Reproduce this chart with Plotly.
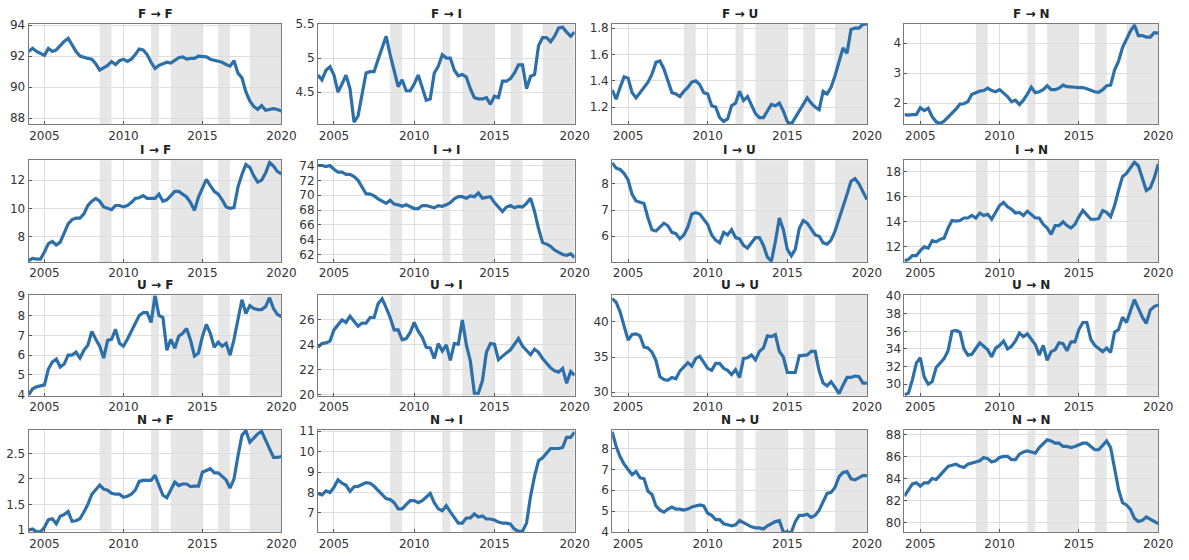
import plotly.graph_objects as go

W, H = 1189, 560
years = [2004 + i / 4 for i in range(65)]

titles = ["F → F", "F → I", "F → U", "F → N",
          "I → F", "I → I", "I → U", "I → N",
          "U → F", "U → I", "U → U", "U → N",
          "N → F", "N → I", "N → U", "N → N"]

shaded_periods = [(2008.5, 2009.25), (2011.75, 2012.25), (2013.0, 2015.0),
                  (2016.0, 2016.75), (2018.0, 2020.0)]

x_ticks = [2005, 2010, 2015, 2020]

FF = [92.3, 92.5, 92.3, 92.2, 92.05, 92.5, 92.3, 92.4, 92.7, 92.95, 93.15, 92.7, 92.3, 92.0, 91.9, 91.85,
      91.8, 91.5, 91.1, 91.25, 91.4, 91.65, 91.45, 91.7, 91.8, 91.65, 91.8, 92.1, 92.45, 92.4, 92.1, 91.6,
      91.2, 91.4, 91.5, 91.6, 91.55, 91.75, 91.9, 91.95, 91.8, 91.85, 91.85, 92.0, 91.95, 91.95, 91.8, 91.75,
      91.7, 91.6, 91.45, 91.35, 91.7, 90.9, 90.6, 89.7, 89.1, 88.75, 88.55, 88.8, 88.5, 88.55, 88.6, 88.55, 88.45]
FI = [4.75, 4.68, 4.82, 4.87, 4.75, 4.5, 4.62, 4.75, 4.55, 4.06, 4.15, 4.45, 4.78, 4.8, 4.8, 4.98,
      5.15, 5.32, 5.05, 4.8, 4.58, 4.68, 4.52, 4.52, 4.62, 4.75, 4.55, 4.38, 4.4, 4.78, 4.88, 5.05,
      5.0, 5.0, 4.82, 4.74, 4.76, 4.72, 4.55, 4.42, 4.4, 4.4, 4.42, 4.32, 4.44, 4.42, 4.66, 4.66,
      4.7, 4.78, 4.9, 4.9, 4.55, 4.73, 4.76, 5.18, 5.3, 5.3, 5.24, 5.32, 5.44, 5.45, 5.38, 5.32, 5.38]
FU = [1.33, 1.26, 1.35, 1.43, 1.42, 1.31, 1.27, 1.31, 1.35, 1.39, 1.45, 1.54, 1.55, 1.49, 1.4, 1.31,
      1.3, 1.28, 1.32, 1.35, 1.39, 1.4, 1.37, 1.31, 1.3, 1.21, 1.2, 1.12, 1.09, 1.11, 1.21, 1.23,
      1.32, 1.25, 1.28, 1.22, 1.15, 1.12, 1.12, 1.17, 1.22, 1.21, 1.23, 1.17, 1.09, 1.07, 1.12, 1.18,
      1.23, 1.27, 1.23, 1.2, 1.18, 1.32, 1.3, 1.35, 1.44, 1.54, 1.65, 1.61, 1.79, 1.8, 1.8, 1.83, 1.83]
FN = [1.62, 1.6, 1.62, 1.62, 1.85, 1.75, 1.83, 1.55, 1.38, 1.33, 1.4, 1.53, 1.65, 1.8, 1.97, 1.98,
      2.05, 2.3, 2.35, 2.4, 2.42, 2.5, 2.42, 2.38, 2.45, 2.35, 2.22, 2.05, 2.1, 1.95, 2.1, 2.3,
      2.53, 2.35, 2.38, 2.45, 2.58, 2.45, 2.45, 2.5, 2.6, 2.55, 2.55, 2.53, 2.52, 2.52, 2.48, 2.42,
      2.38, 2.36, 2.45, 2.58, 2.6, 3.1, 3.4, 3.85, 4.15, 4.4, 4.6, 4.25, 4.25, 4.2, 4.2, 4.35, 4.33]
IF = [6.3, 6.45, 6.4, 6.4, 6.9, 7.5, 7.65, 7.4, 7.6, 8.2, 8.9, 9.2, 9.3, 9.3, 9.6, 10.2,
      10.5, 10.7, 10.5, 10.1, 10.0, 9.9, 10.2, 10.2, 10.1, 10.2, 10.4, 10.7, 10.75, 10.9, 10.7, 10.7,
      10.7, 11.0, 10.5, 10.6, 10.9, 11.2, 11.2, 11.0, 10.8, 10.4, 9.85, 10.8, 11.5, 12.05, 11.6, 11.2,
      11.0, 10.6, 10.1, 10.0, 10.05, 11.5, 12.4, 13.1, 12.9, 12.3, 11.85, 12.0, 12.5, 13.25, 13.0, 12.6, 12.45]
II = [74.0, 74.0, 73.85, 74.0, 73.5, 73.1, 73.1, 72.8, 72.8, 72.5, 72.0, 71.0, 70.2, 70.15, 69.9, 69.5,
      69.2, 68.9, 69.3, 68.8, 68.7, 68.5, 68.7, 68.4, 68.2, 68.2, 68.6, 68.6, 68.5, 68.3, 68.6, 68.5,
      68.7, 69.0, 69.5, 69.8, 69.8, 69.6, 69.9, 69.8, 70.3, 69.6, 69.7, 69.8, 69.0, 68.4, 67.8, 68.4,
      68.6, 68.3, 68.5, 68.4, 68.9, 69.6, 67.8, 65.5, 63.6, 63.4, 63.1, 62.6, 62.3, 62.0, 61.9, 62.1, 61.6]
IU = [8.8, 8.6, 8.55, 8.4, 8.15, 7.6, 7.35, 7.3, 7.25, 6.7, 6.25, 6.2, 6.35, 6.5, 6.4, 6.15,
      6.1, 5.9, 6.05, 6.35, 6.85, 6.9, 6.85, 6.65, 6.45, 6.05, 5.85, 5.75, 6.15, 6.05, 6.25, 5.95,
      5.9, 5.65, 5.55, 5.75, 5.95, 5.95, 5.65, 5.2, 5.05, 5.8, 6.7, 6.25, 5.5, 5.25, 5.5, 6.3,
      6.6, 6.5, 6.25, 6.05, 6.0, 5.75, 5.7, 5.85, 6.2, 6.65, 7.1, 7.6, 8.1, 8.2, 8.0, 7.7, 7.4]
IN = [10.9, 11.0, 11.3, 11.3, 11.7, 12.0, 11.9, 12.5, 12.4, 12.6, 12.7, 13.5, 14.1, 14.05, 14.1, 14.3,
      14.3, 14.5, 14.3, 14.7, 14.5, 14.6, 14.2, 14.8, 15.3, 15.55, 15.2, 15.0, 14.7, 14.75, 14.5, 14.85,
      14.6, 14.3, 14.3, 13.8, 13.5, 13.0, 13.7, 13.7, 14.0, 13.7, 13.5, 13.8, 14.4, 14.9, 14.55, 14.2,
      14.2, 14.25, 14.9, 14.75, 14.4, 15.3, 16.5, 17.6, 17.85, 18.35, 18.75, 18.45, 17.5, 16.5, 16.7, 17.5, 18.6]
UF = [4.0, 4.3, 4.4, 4.45, 4.5, 5.3, 5.65, 5.8, 5.4, 5.55, 6.0, 6.0, 6.15, 5.85, 6.25, 6.5,
      7.2, 6.8, 6.45, 5.85, 6.75, 6.8, 7.3, 6.6, 6.45, 6.8, 7.2, 7.6, 8.0, 8.15, 8.15, 7.65,
      9.0, 8.0, 7.9, 6.25, 6.8, 6.35, 6.95, 7.1, 7.35, 6.75, 5.95, 6.1, 6.95, 7.55, 7.1, 6.4,
      6.65, 6.45, 6.6, 6.0, 6.8, 7.8, 8.8, 8.1, 8.5, 8.35, 8.3, 8.3, 8.45, 8.9, 8.35, 8.05, 7.95]
UI = [23.8, 24.1, 24.15, 24.3, 25.2, 25.6, 26.0, 25.8, 26.3, 25.9, 25.5, 25.75, 25.75, 26.2, 26.2, 27.3,
      27.7, 27.0, 26.2, 25.2, 25.2, 24.4, 24.5, 25.0, 25.8, 25.1, 24.6, 23.8, 23.75, 22.9, 24.1, 23.5,
      24.0, 22.75, 24.1, 24.05, 26.0, 24.0, 22.7, 20.1, 20.1, 21.1, 23.4, 24.1, 24.05, 22.8, 23.1, 23.35,
      23.6, 24.1, 24.5, 23.9, 23.5, 23.2, 23.65, 23.4, 22.9, 22.5, 22.15, 21.9, 21.8, 22.1, 20.9, 21.85, 21.55]
UU = [43.3, 42.8, 41.4, 39.5, 37.4, 38.2, 38.3, 38.0, 36.4, 36.3, 35.7, 34.5, 32.2, 31.8, 31.7, 32.1,
      31.9, 33.0, 33.6, 34.2, 33.7, 34.8, 35.1, 34.3, 33.4, 33.1, 34.1, 34.1, 33.4, 33.1, 32.5, 33.2,
      32.1, 34.8, 34.9, 35.3, 34.6, 35.8, 36.3, 38.0, 37.9, 38.2, 35.8, 35.0, 32.8, 32.8, 32.8, 35.2,
      35.3, 35.3, 35.8, 35.8, 33.0, 31.3, 30.9, 31.5, 30.7, 29.8, 31.0, 32.1, 32.1, 32.3, 32.2, 31.3, 31.3]
UN = [28.8, 29.0, 30.5, 32.4, 33.0, 30.8, 30.0, 30.3, 31.9, 32.4, 32.9, 33.8, 36.0, 36.1, 35.9, 34.0,
      33.3, 33.4, 34.0, 34.7, 34.3, 33.9, 33.1, 34.1, 34.4, 34.9, 34.0, 34.3, 34.9, 35.8, 35.4, 35.7,
      35.1, 34.5, 33.3, 34.4, 32.7, 33.7, 33.9, 34.7, 34.6, 33.8, 34.8, 34.8, 36.2, 37.0, 37.0, 35.1,
      34.4, 34.0, 33.7, 34.1, 33.6, 35.9, 36.2, 37.6, 37.0, 38.3, 39.6, 38.6, 37.6, 36.9, 38.4, 38.8, 39.0]
NF = [1.0, 1.02, 0.96, 0.96, 1.05, 1.2, 1.22, 1.12, 1.27, 1.3, 1.36, 1.17, 1.18, 1.22, 1.35, 1.5,
      1.7, 1.8, 1.88, 1.8, 1.78, 1.72, 1.7, 1.7, 1.64, 1.66, 1.7, 1.78, 1.95, 1.97, 1.97, 1.97,
      2.07, 1.88, 1.68, 1.63, 1.78, 1.94, 1.87, 1.9, 1.9, 1.85, 1.86, 1.86, 2.13, 2.17, 2.2, 2.12,
      2.12, 2.05, 1.98, 1.82, 2.0, 2.45, 2.85, 2.95, 2.72, 2.8, 2.88, 2.93, 2.75, 2.6, 2.42, 2.42, 2.44]
NI = [7.95, 7.88, 8.08, 8.0, 8.25, 8.62, 8.45, 8.35, 8.05, 8.28, 8.3, 8.38, 8.48, 8.45, 8.3, 8.1,
      7.9, 7.7, 7.65, 7.5, 7.2, 7.2, 7.4, 7.6, 7.6, 7.5, 7.6, 7.8, 7.95, 7.5, 7.2, 7.1,
      7.35, 7.05, 6.75, 6.5, 6.5, 6.75, 6.75, 6.95, 6.8, 6.85, 6.7, 6.7, 6.65, 6.55, 6.5, 6.5,
      6.45, 6.2, 6.1, 6.1, 6.5, 7.8, 8.8, 9.55, 9.7, 9.95, 10.15, 10.15, 10.15, 10.2, 10.7, 10.7, 10.95]
NU = [8.8, 8.1, 7.6, 7.25, 7.0, 6.75, 6.9, 6.6, 6.55, 5.95, 5.8, 5.25, 5.05, 4.95, 5.1, 5.2,
      5.1, 5.1, 5.05, 5.1, 5.2, 5.25, 5.3, 5.25, 4.9, 4.8, 4.6, 4.6, 4.4, 4.35, 4.3, 4.35,
      4.55, 4.45, 4.35, 4.25, 4.2, 4.2, 4.15, 4.3, 4.4, 4.5, 4.55, 4.0, 4.0, 3.98, 4.5, 4.8,
      4.8, 4.85, 4.7, 4.8, 5.05, 5.45, 5.85, 5.9, 6.15, 6.65, 6.85, 6.9, 6.55, 6.5, 6.6, 6.7, 6.7]
NN = [82.4, 83.0, 83.5, 83.6, 83.3, 83.6, 83.6, 84.0, 83.9, 84.3, 84.7, 85.1, 85.2, 85.3, 85.1, 85.0,
      85.3, 85.4, 85.5, 85.6, 85.9, 85.8, 85.5, 85.6, 85.9, 86.0, 86.0, 85.7, 85.7, 86.2, 86.4, 86.5,
      86.4, 86.3, 86.8, 87.2, 87.5, 87.4, 87.2, 87.2, 86.9, 86.9, 86.8, 86.9, 87.05, 87.2, 87.2, 86.9,
      86.6, 86.6, 87.0, 87.4, 86.8, 85.0, 83.0, 81.8, 81.6, 81.2, 80.4, 80.1, 80.2, 80.5, 80.3, 80.1, 79.9]

series = [FF, FI, FU, FN, IF, II, IU, IN, UF, UI, UU, UN, NF, NI, NU, NN]

y_ranges = [[87.6, 94.1], [4.03, 5.505], [1.07, 1.835], [1.3, 4.65],
            [6.2, 13.4], [61.0, 74.7], [5.02, 8.9], [10.8, 18.9],
            [3.95, 9.03], [19.9, 28.0], [29.5, 43.8], [28.7, 40.1],
            [0.95, 2.96], [6.04, 11.06], [3.98, 8.89], [79.1, 88.4]]
y_ticks = [[88, 90, 92, 94], [4.5, 5, 5.5], [1.2, 1.4, 1.6, 1.8], [2, 3, 4],
           [8, 10, 12], [62, 64, 66, 68, 70, 72, 74], [6, 7, 8], [12, 14, 16, 18],
           [4, 5, 6, 7, 8, 9], [20, 22, 24, 26], [30, 35, 40], [30, 32, 34, 36, 38, 40],
           [1, 1.5, 2, 2.5], [7, 8, 9, 10, 11], [4, 5, 6, 7, 8], [80, 82, 84, 86, 88]]

col_px = [(29, 285), (322, 582), (620, 878), (916, 1173)]
row_px = [(18, 121), (158, 262), (296, 399), (434, 539)]

LINE = "#2d6fa8"
FONT = "DejaVu Sans, Arial, sans-serif"

fig = go.Figure()
shapes = []
annotations = []
for k in range(16):
    r, c = divmod(k, 4)
    n = k + 1
    xa = "x" if n == 1 else f"x{n}"
    ya = "y" if n == 1 else f"y{n}"
    fig.add_trace(go.Scatter(x=years, y=series[k], mode="lines",
                             line=dict(color=LINE, width=3.2), xaxis=xa, yaxis=ya,
                             showlegend=False, hoverinfo="skip"))
    x0, x1 = col_px[c]
    y0, y1 = row_px[r]
    common = dict(showline=True, mirror=True, linecolor="#7a7a7a", linewidth=1,
                  showgrid=True, gridcolor="#dedede", gridwidth=1, zeroline=False,
                  ticks="inside", ticklen=3, tickcolor="#555",
                  tickfont=dict(family=FONT, size=12, color="#333"))
    fig.layout[f"xaxis{n}" if n > 1 else "xaxis"] = dict(
        domain=[x0 / W, x1 / W], anchor=ya, range=[2004, 2020],
        tickvals=x_ticks, ticktext=[str(v) for v in x_ticks], **common)
    fig.layout[f"yaxis{n}" if n > 1 else "yaxis"] = dict(
        domain=[1 - y1 / H, 1 - y0 / H], anchor=xa, range=y_ranges[k],
        tickvals=y_ticks[k], ticktext=[f"{v:g}" for v in y_ticks[k]], **common)
    for a, b in shaded_periods:
        shapes.append(dict(type="rect", xref=xa, yref=f"{ya} domain", x0=a, x1=b, y0=0, y1=1,
                           fillcolor="#e6e6e6", line=dict(width=0), layer="below"))
    annotations.append(dict(text=f"<b>{titles[k]}</b>", xref="paper", yref="paper",
                            x=(x0 + x1) / 2 / W, y=1 - (y0 - 1) / H, xanchor="center",
                            yanchor="bottom", showarrow=False,
                            font=dict(family=FONT, size=12, color="#222")))

fig.update_layout(width=W, height=H, margin=dict(l=0, r=0, t=0, b=0),
                  plot_bgcolor="white", paper_bgcolor="white",
                  shapes=shapes, annotations=annotations)
fig.write_html("out.html", config={"displayModeBar": False},
               post_script="document.body.style.margin='0';document.body.style.overflow='hidden';")
